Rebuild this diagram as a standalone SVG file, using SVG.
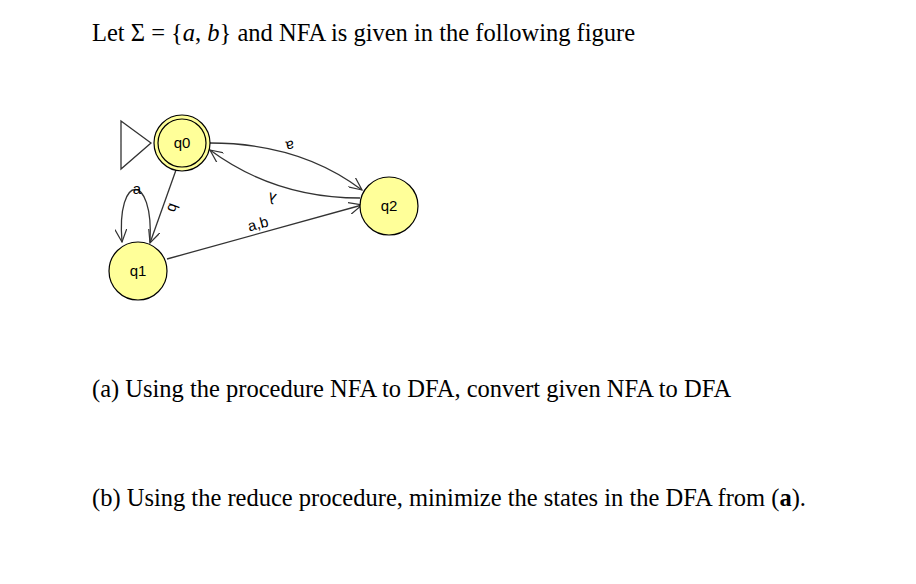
<svg xmlns="http://www.w3.org/2000/svg" width="916" height="584" viewBox="0 0 916 584">
<style>
.t{font-family:"Liberation Serif",serif;font-size:24.5px;fill:#000}
.st{fill:#ffff99;stroke:#000;stroke-width:1.2}
.lb{font-family:"Liberation Sans",sans-serif;font-size:15px;fill:#000;text-anchor:middle}
.e{fill:none;stroke:#333;stroke-width:1.3}
</style>
<defs><marker id="ar" markerWidth="14" markerHeight="12" refX="13" refY="6" orient="auto" markerUnits="userSpaceOnUse"><path d="M0,0 L13,6 L0,12" fill="none" stroke="#333" stroke-width="1.2"/></marker></defs>
<rect width="916" height="584" fill="#fff"/>
<text class="t" x="92" y="41">Let Σ = {<tspan font-style="italic">a</tspan>, <tspan font-style="italic">b</tspan>} and NFA is given in the following figure</text>
<text class="t" x="92" y="397">(a) Using the procedure NFA to DFA, convert given NFA to DFA</text>
<text class="t" x="92" y="506">(b) Using the reduce procedure, minimize the states in the DFA from (<tspan font-weight="bold">a</tspan>).</text>
<g id="connectors">
<path class="e" d="M121,121 L151,143 L121,169 Z"/>
<path class="e" d="M210,143 Q300,143 362,190" marker-end="url(#ar)"/>
<path class="e" d="M360,198 Q275,198 210,150" marker-end="url(#ar)"/>
<path class="e" d="M176,170 L150,243" marker-end="url(#ar)"/>
<path class="e" d="M167,259 L362,205" marker-end="url(#ar)"/>
<path class="e" d="M150,242 C154,172 116,172 122,242" marker-end="url(#ar)"/>
<text class="lb" x="290" y="151" transform="rotate(170 290 146)">a</text>
<text class="lb" x="272" y="203" transform="rotate(195 272 198)">λ</text>
<text class="lb" x="173" y="213" transform="rotate(110 173 208)">b</text>
<text class="lb" x="258" y="229" transform="rotate(-15 258 224)">a,b</text>
<text class="lb" x="137" y="194">a</text>
</g>
<g id="q0"><circle class="st" cx="182" cy="143" r="28"/><circle cx="182" cy="143" r="24" fill="none" stroke="#000" stroke-width="1.2"/><text class="lb" x="182" y="148">q0</text></g>
<g id="q1"><circle class="st" cx="138" cy="271" r="29"/><text class="lb" x="138" y="276">q1</text></g>
<g id="q2"><circle class="st" cx="389" cy="206" r="29"/><text class="lb" x="389" y="211">q2</text></g>
</svg>
